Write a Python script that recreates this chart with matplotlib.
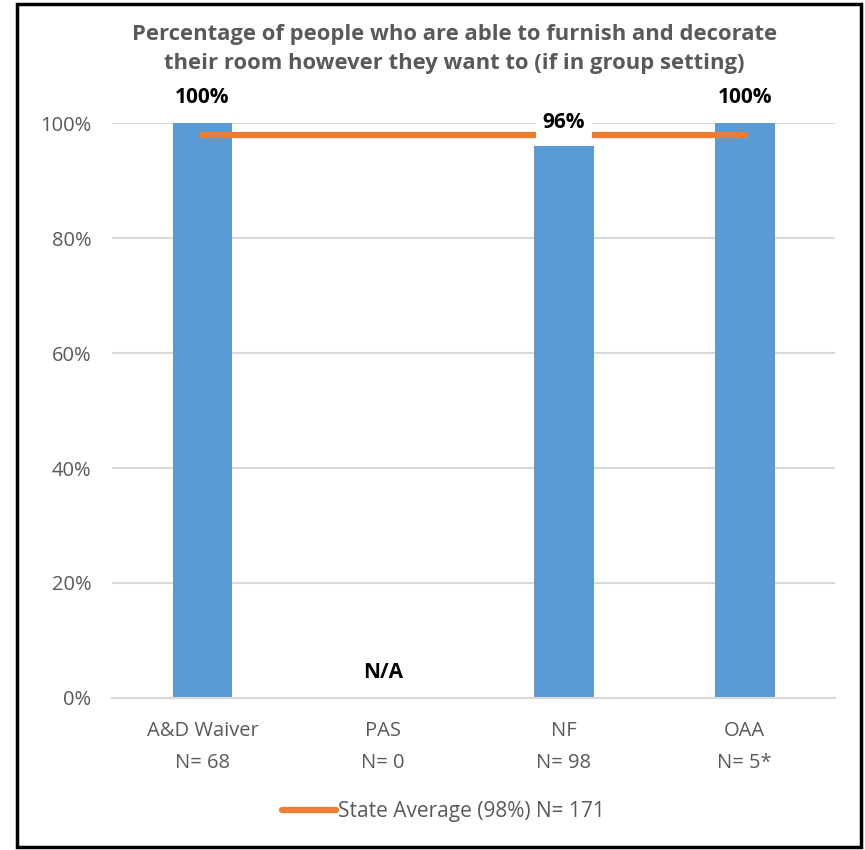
import matplotlib.pyplot as plt
from matplotlib.lines import Line2D
from matplotlib.patches import Rectangle

plt.rcParams['font.family'] = ['Open Sans', 'DejaVu Sans']

categories = ['A&D Waiver\nN= 68', 'PAS\nN= 0', 'NF\nN= 98', 'OAA\nN= 5*']
values = [1.00, None, 0.96, 1.00]
value_labels = ['100%', 'N/A', '96%', '100%']
state_avg = 0.98
legend_label = 'State Average (98%) N= 171'
yticks = [0, 0.2, 0.4, 0.6, 0.8, 1.0]
ytick_labels = ['0%', '20%', '40%', '60%', '80%', '100%']

blue = '#5B9BD5'
orange = '#ED7D31'
gray = '#595959'

fig = plt.figure(figsize=(8.65, 8.5), dpi=100)
ax = fig.add_axes([0.1295, 0.179, 0.836, 0.676])

x = list(range(len(categories)))
heights = [v if v is not None else 0 for v in values]
ax.bar(x, heights, width=0.33, color=blue, zorder=2)
ax.plot([x[0], x[-1]], [state_avg, state_avg], color=orange, lw=4.5,
        solid_capstyle='round', zorder=3)

for xi, v, lab in zip(x, values, value_labels):
    if v is None:
        ax.text(xi, 0.025, lab, ha='center', va='bottom', fontsize=15,
                fontweight='bold', color='black', zorder=4)
    elif v < 1:
        ax.text(xi, v + 0.042, lab, ha='center', va='center', fontsize=15,
                fontweight='bold', color='black', zorder=4,
                bbox=dict(facecolor='white', edgecolor='none', pad=5))
    else:
        ax.text(xi, v + 0.045, lab, ha='center', va='center', fontsize=15,
                fontweight='bold', color='black', zorder=4)

ax.set_xlim(-0.5, len(categories) - 0.5)
ax.set_ylim(0, 1.0)
ax.set_yticks(yticks)
ax.set_yticklabels(ytick_labels)
ax.set_xticks(x)
ax.set_xticklabels(categories, linespacing=1.75)
ax.tick_params(axis='both', length=0, labelsize=14.5, labelcolor=gray)
ax.tick_params(axis='y', pad=15)
ax.tick_params(axis='x', pad=17)
ax.grid(axis='y', color='#D9D9D9', lw=1.5, zorder=0)
ax.set_axisbelow(True)
for s in ['top', 'right', 'left']:
    ax.spines[s].set_visible(False)
ax.spines['bottom'].set_color('#D9D9D9')
ax.spines['bottom'].set_linewidth(1.5)

fig.text(0.525, 0.972, 'Percentage of people who are able to furnish and decorate\n'
         'their room however they want to (if in group setting)',
         ha='center', va='top', fontsize=15.8, fontweight='bold', color=gray,
         linespacing=1.5)

handle = Line2D([0], [0], color=orange, lw=4.5, solid_capstyle='round')
fig.legend([handle], [legend_label], loc='center', bbox_to_anchor=(0.513, 0.045),
           frameon=False, fontsize=15, labelcolor=gray, handlelength=2.6,
           handletextpad=0.1)

fig.patches.append(Rectangle((0.0197, 0.003), 0.976, 0.992, transform=fig.transFigure,
                             fill=False, edgecolor='black', lw=2.5))

fig.savefig('out.png', dpi=100)
